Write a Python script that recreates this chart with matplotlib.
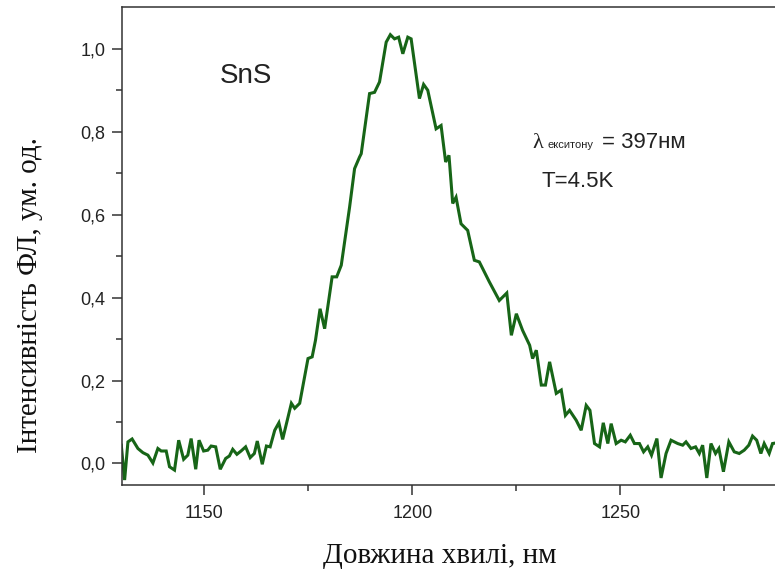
import matplotlib
matplotlib.use("Agg")
import matplotlib.pyplot as plt
from matplotlib.ticker import FixedLocator, FuncFormatter

# Photoluminescence spectrum of SnS (T = 4.5 K)
wavelength_nm = [
    1130.0, 1130.8, 1131.6, 1132.6, 1134.0, 1135.2, 1136.4, 1137.6, 1138.8, 1139.6,
    1140.8, 1141.6, 1142.8, 1143.8, 1145.0, 1146.0, 1146.8, 1147.9, 1148.7, 1149.8,
    1150.8, 1151.6, 1152.7, 1153.8, 1155.1, 1156.0, 1156.8, 1157.8, 1158.8, 1159.9,
    1161.0, 1162.0, 1162.7, 1163.9, 1164.9, 1165.8, 1166.9, 1167.9, 1168.8, 1170.9,
    1171.7, 1172.9, 1174.9, 1175.9, 1176.7, 1177.8, 1178.9, 1180.7, 1181.8, 1182.9,
    1184.9, 1186.1, 1187.3, 1187.7, 1189.7, 1190.9, 1192.1, 1193.7, 1194.7, 1195.7,
    1196.7, 1197.7, 1198.9, 1199.7, 1201.7, 1202.7, 1203.7, 1205.7, 1206.9, 1208.0,
    1208.8, 1209.7, 1210.5, 1211.7, 1213.3, 1214.9, 1216.1, 1218.5, 1220.9, 1222.7,
    1223.8, 1225.0, 1226.5, 1228.2, 1228.9, 1229.8, 1231.0, 1232.0, 1233.0, 1234.6,
    1235.8, 1236.8, 1237.8, 1239.4, 1240.6, 1241.8, 1242.7, 1243.8, 1245.0, 1245.9,
    1247.0, 1247.8, 1249.0, 1250.2, 1251.2, 1252.4, 1253.4, 1254.6, 1255.6, 1256.6,
    1257.5, 1258.8, 1259.8, 1261.0, 1262.2, 1263.8, 1265.0, 1265.8, 1267.0, 1268.1,
    1269.0, 1269.8, 1270.8, 1271.8, 1272.9, 1273.7, 1274.8, 1276.1, 1277.4, 1278.6,
    1279.8, 1280.9, 1281.8, 1282.8, 1283.8, 1284.6, 1285.8, 1286.6, 1287.2,
]
intensity = [
    0.044, -0.040, 0.052, 0.059, 0.036, 0.026, 0.020, 0.001, 0.036, 0.030,
    0.030, -0.008, -0.016, 0.056, 0.010, 0.020, 0.060, -0.014, 0.056, 0.030,
    0.032, 0.042, 0.040, -0.014, 0.012, 0.018, 0.034, 0.022, 0.030, 0.040,
    0.014, 0.024, 0.054, -0.002, 0.042, 0.040, 0.080, 0.098, 0.058, 0.145,
    0.133, 0.145, 0.253, 0.257, 0.297, 0.373, 0.325, 0.450, 0.450, 0.478,
    0.618, 0.711, 0.739, 0.747, 0.892, 0.895, 0.920, 1.016, 1.034, 1.024,
    1.028, 0.988, 1.028, 1.024, 0.880, 0.914, 0.900, 0.807, 0.815, 0.727,
    0.743, 0.627, 0.642, 0.578, 0.562, 0.490, 0.486, 0.438, 0.393, 0.411,
    0.309, 0.361, 0.321, 0.285, 0.253, 0.273, 0.189, 0.189, 0.245, 0.169,
    0.177, 0.116, 0.128, 0.104, 0.080, 0.140, 0.128, 0.048, 0.040, 0.098,
    0.048, 0.096, 0.048, 0.056, 0.052, 0.068, 0.048, 0.048, 0.028, 0.040,
    0.020, 0.060, -0.035, 0.024, 0.056, 0.048, 0.044, 0.052, 0.036, 0.040,
    0.024, 0.044, -0.035, 0.048, 0.024, 0.036, -0.020, 0.052, 0.028, 0.024,
    0.032, 0.044, 0.066, 0.056, 0.024, 0.048, 0.024, 0.048, 0.049,
]

x_major = [1150, 1200, 1250]
x_minor = [1175, 1225, 1275]
y_major = [0.0, 0.2, 0.4, 0.6, 0.8, 1.0]
y_minor = [0.1, 0.3, 0.5, 0.7, 0.9]

W, H = 775, 574
fig = plt.figure(figsize=(W / 100, H / 100), dpi=100, facecolor="white")

# axes box in pixels: left 121.7, right at the canvas edge, top 6.5, bottom 485
left_px, right_px, top_px, bottom_px = 121.7, 775, 6.5, 485
ax = fig.add_axes([left_px / W, 1 - bottom_px / H,
                   (right_px - left_px) / W, (bottom_px - top_px) / H])

ax.plot(wavelength_nm, intensity, color="#176517", lw=2.2, solid_joinstyle="miter")

ax.set_xlim(1130.1, 1287.2)
ax.set_ylim(-0.052, 1.102)

spine_col = "#333333"
for side in ("left", "bottom", "top"):
    ax.spines[side].set_color(spine_col)
    ax.spines[side].set_linewidth(1.1)
ax.spines["right"].set_visible(False)

ax.xaxis.set_major_locator(FixedLocator(x_major))
ax.xaxis.set_minor_locator(FixedLocator(x_minor))
ax.yaxis.set_major_locator(FixedLocator(y_major))
ax.yaxis.set_minor_locator(FixedLocator(y_minor))
ax.yaxis.set_major_formatter(FuncFormatter(lambda v, p: f"{v:.1f}".replace(".", ",")))
ax.xaxis.set_major_formatter(FuncFormatter(lambda v, p: f"{v:.0f}"))

tick_font = "Liberation Sans"
ax.tick_params(axis="both", which="major", direction="out", length=7.5, width=1.1,
               color=spine_col, labelsize=13, labelcolor="#222222")
ax.tick_params(axis="both", which="minor", direction="out", length=4.5, width=1.1,
               color=spine_col)
ax.tick_params(axis="y", which="major", pad=4)
ax.tick_params(axis="x", which="major", pad=7)
ax.tick_params(top=False, right=False, which="both")
for lbl in ax.get_xticklabels() + ax.get_yticklabels():
    lbl.set_fontfamily(tick_font)

# axis titles
serif = "Liberation Serif"
fig.text(440 / W, 1 - 556 / H, "Довжина хвилі, нм", family=serif, fontsize=21,
         ha="center", va="center", color="#111111")
fig.text(30 / W, 1 - 295 / H, "Інтенсивність ФЛ, ум. од.", family=serif, fontsize=21,
         rotation=90, ha="center", va="center", color="#111111")

# annotations
fig.text(220 / W, 1 - 83 / H, "SnS", family=tick_font, fontsize=20,
         ha="left", va="baseline", color="#222222")
fig.text(532 / W, 1 - 148 / H, "λ", family=serif, fontsize=16,
         ha="left", va="baseline", color="#222222")
fig.text(548 / W, 1 - 148 / H, "екситону", family=tick_font, fontsize=8,
         ha="left", va="baseline", color="#222222")
fig.text(602 / W, 1 - 148 / H, "= 397нм", family=tick_font, fontsize=16,
         ha="left", va="baseline", color="#222222")
fig.text(541 / W, 1 - 187 / H, "T=4.5K", family=tick_font, fontsize=16,
         ha="left", va="baseline", color="#222222")

fig.savefig("out.png", dpi=100, facecolor="white")
